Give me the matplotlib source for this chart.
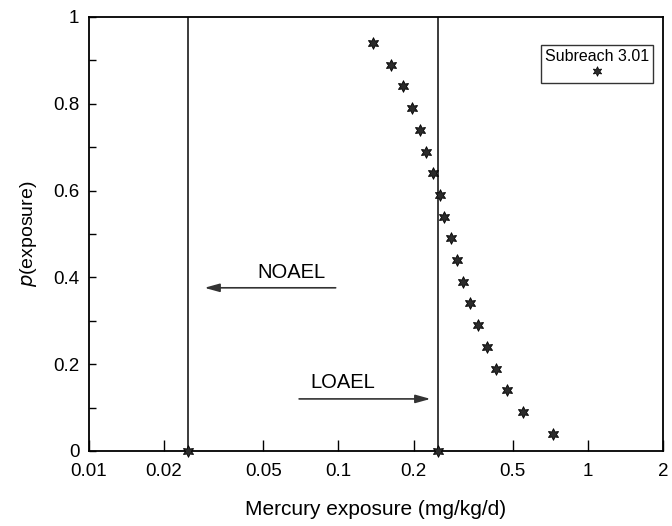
import numpy as np
import matplotlib
matplotlib.use('Agg')
import matplotlib.pyplot as plt
from matplotlib.lines import Line2D

plt.rcParams['font.family'] = ['Liberation Sans', 'DejaVu Sans']

# Subreach 3.01 cumulative exposure curve
exposure = [0.137, 0.163, 0.181, 0.198, 0.213, 0.224, 0.239, 0.255, 0.265, 0.282,
            0.298, 0.316, 0.338, 0.361, 0.393, 0.428, 0.473, 0.551, 0.722]
p_exposure = [0.94, 0.89, 0.84, 0.79, 0.74, 0.69, 0.64, 0.59, 0.54, 0.49,
              0.44, 0.39, 0.34, 0.29, 0.24, 0.19, 0.14, 0.09, 0.04]

# toxicity benchmarks (mg/kg/d)
noael = 0.025
loael = 0.25

x_ticks = [0.01, 0.02, 0.05, 0.1, 0.2, 0.5, 1, 2]
x_tick_labels = ['0.01', '0.02', '0.05', '0.1', '0.2', '0.5', '1', '2']
y_ticks = [0, 0.2, 0.4, 0.6, 0.8, 1]
y_tick_labels = ['0', '0.2', '0.4', '0.6', '0.8', '1']
y_minor = [0.1, 0.3, 0.5, 0.7, 0.9]

star = (6, 1, 0)
mcol = '#2b2b2b'

fig = plt.figure(figsize=(6.72, 5.26), dpi=100)
ax = fig.add_axes([0.1324, 0.1426, 0.8542, 0.8251])

ax.set_xscale('log')
ax.set_xlim(0.01, 2)
ax.set_ylim(0, 1)

# benchmark lines
ax.axvline(noael, color='#1a1a1a', lw=1.2)
ax.axvline(loael, color='#1a1a1a', lw=1.2)
ax.plot([noael, loael], [0, 0], linestyle='none', marker=star, ms=8.5,
        color=mcol, mec='black', mew=0.6, clip_on=False, zorder=5)

# data
ax.plot(exposure, p_exposure, linestyle='none', marker=star, ms=8.5,
        color=mcol, mec='black', mew=0.6, zorder=5)

# arrows and labels
ax.annotate('', xy=(0.0283, 0.376), xytext=(0.1, 0.376),
            arrowprops=dict(arrowstyle='-|>,head_length=0.9,head_width=0.25',
                            color='#333333', lw=1.2))
ax.text(0.065, 0.39, 'NOAEL', ha='center', va='bottom', fontsize=14.5)
ax.annotate('', xy=(0.240, 0.12), xytext=(0.0678, 0.12),
            arrowprops=dict(arrowstyle='-|>,head_length=0.9,head_width=0.25',
                            color='#333333', lw=1.2))
ax.text(0.104, 0.135, 'LOAEL', ha='center', va='bottom', fontsize=14.5)

# legend
h = Line2D([], [], linestyle='none', marker=star, ms=7, color=mcol,
           mec='black', mew=0.5)
leg = ax.legend([h], [''], title='Subreach 3.01', loc='upper right',
                bbox_to_anchor=(0.983, 0.935), borderaxespad=0,
                frameon=True, fancybox=False, handlelength=0.8,
                handletextpad=0, borderpad=0.3, labelspacing=0,
                title_fontsize=11.5)
leg.get_frame().set_edgecolor('black')
leg.get_frame().set_linewidth(1.0)

# ticks
ax.set_xticks(x_ticks)
ax.set_xticklabels(x_tick_labels)
ax.xaxis.set_minor_locator(matplotlib.ticker.NullLocator())
ax.set_yticks(y_ticks)
ax.set_yticklabels(y_tick_labels)
ax.set_yticks(y_minor, minor=True)
ax.tick_params(axis='x', which='major', direction='in', length=8, width=1,
               labelsize=13.5, pad=9)
ax.tick_params(axis='y', which='both', direction='in', length=5, width=1,
               labelsize=13.5, pad=7)

for s in ax.spines.values():
    s.set_linewidth(1.3)

ax.set_xlabel('Mercury exposure (mg/kg/d)', fontsize=15, labelpad=14)
ax.set_ylabel(r'$p$(exposure)', fontsize=14, labelpad=10)

fig.savefig('out.png', dpi=100)
